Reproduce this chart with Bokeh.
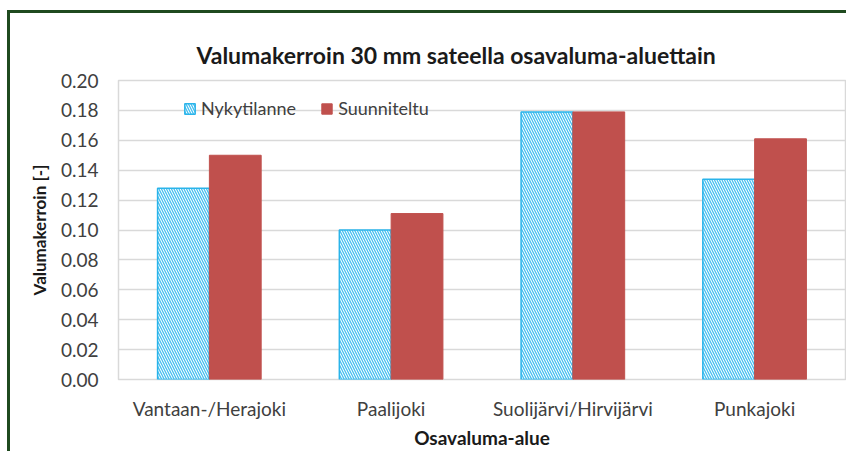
from bokeh.plotting import figure
from bokeh.models import (ColumnDataSource, Legend, LegendItem, FactorRange, SingleIntervalTicker,
                          NumeralTickFormatter)
from bokeh.transform import dodge
from bokeh.embed import file_html
from bokeh.resources import INLINE

categories = ["Vantaan-/Herajoki", "Paalijoki", "Suolijärvi/Hirvijärvi", "Punkajoki"]
nykytilanne = [0.128, 0.100, 0.179, 0.134]
suunniteltu = [0.150, 0.111, 0.179, 0.161]
series_names = ["Nykytilanne", "Suunniteltu"]

FONT = "Lato"
GREEN = "#1f4a1f"

src = ColumnDataSource(dict(cat=categories, nyky=nykytilanne, suun=suunniteltu))

page_frame = {
    "background-color": "white",
    "background-image": f"linear-gradient({GREEN}, {GREEN}), linear-gradient({GREEN}, {GREEN})",
    "background-size": "3px 100%, 100% 3px",
    "background-position": "7px 10px, 7px 10px",
    "background-repeat": "no-repeat",
}

p = figure(width=846, height=451, x_range=FactorRange(*categories, range_padding=0),
           y_range=(0, 0.2), output_backend="svg", toolbar_location=None,
           min_border_left=118, min_border_right=1, min_border_top=80, min_border_bottom=71,
           styles=page_frame)

bw = 0.285
r1 = p.vbar(x=dodge("cat", -bw / 2, range=p.x_range), top="nyky", width=bw, source=src,
            fill_color="white", line_color="#2ab4ea", line_width=1.5,
            hatch_pattern="\\", hatch_color="#45bff0", hatch_scale=5, hatch_weight=1.3)
r2 = p.vbar(x=dodge("cat", bw / 2, range=p.x_range), top="suun", width=bw, source=src,
            fill_color="#c0504d", line_color="#c0504d")

legend = Legend(items=[LegendItem(label=series_names[0], renderers=[r1]),
                       LegendItem(label=series_names[1], renderers=[r2])],
                orientation="horizontal", location=(55, 250),
                background_fill_alpha=0, border_line_alpha=0,
                label_text_font=FONT, label_text_font_size="18px", label_text_color="#404040",
                glyph_width=13, glyph_height=13, spacing=24, label_standoff=5)
p.add_layout(legend)

p.title.text = "Valumakerroin 30 mm sateella osavaluma-aluettain"
p.title.align = "left"
p.title.offset = 78
p.title.text_font = FONT
p.title.text_font_size = "23px"
p.title.text_font_style = "bold"
p.title.text_color = "#1a1a1a"
p.title.standoff = 24

p.yaxis.ticker = SingleIntervalTicker(interval=0.02)
p.yaxis.formatter = NumeralTickFormatter(format="0.00")
p.yaxis.axis_label = "Valumakerroin [-]"
p.xaxis.axis_label = "Osavaluma-alue"
for ax in (p.xaxis, p.yaxis):
    ax.axis_line_color = None
    ax.major_tick_line_color = None
    ax.minor_tick_line_color = None
    ax.major_label_text_font = FONT
    ax.major_label_text_font_size = "19px"
    ax.major_label_text_color = "#404040"
    ax.axis_label_text_font = FONT
    ax.axis_label_text_font_style = "bold"
    ax.axis_label_text_color = "#1a1a1a"
p.xaxis.axis_label_text_font_size = "19px"
p.yaxis.axis_label_text_font_size = "17px"
p.yaxis.major_label_standoff = 14
p.xaxis.major_label_standoff = 11
p.xaxis.axis_label_standoff = 3
p.yaxis.axis_label_standoff = 8

p.xgrid.grid_line_color = None
p.ygrid.grid_line_color = "#d9d9d9"
p.ygrid.grid_line_width = 1.5
p.outline_line_color = "#d9d9d9"
p.outline_line_width = 1.5
p.background_fill_color = "white"
p.border_fill_alpha = 0

open("out.html", "w").write(file_html(p, INLINE))
